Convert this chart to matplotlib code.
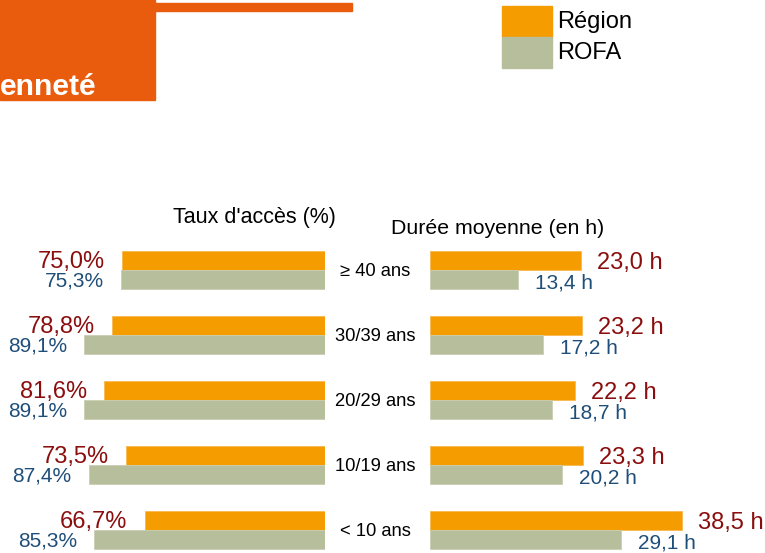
import matplotlib.pyplot as plt
import matplotlib.transforms as mtransforms
from matplotlib.patches import Rectangle
import numpy as np

plt.rcParams['font.family'] = ['Liberation Sans', 'DejaVu Sans']

categories = ['≥ 40 ans', '30/39 ans', '20/29 ans', '10/19 ans', '< 10 ans']
acces_region = [75.0, 78.8, 81.6, 73.5, 66.7]
acces_rofa = [75.3, 89.1, 89.1, 87.4, 85.3]
duree_region = [23.0, 23.2, 22.2, 23.3, 38.5]
duree_rofa = [13.4, 17.2, 18.7, 20.2, 29.1]

ORANGE = '#F59C00'
GREY = '#B7BE9B'
RED = '#8B0E0E'
BLUE = '#1F4E79'
TITLE_ORANGE = '#E95C0E'

W, H = 765, 553
fig = plt.figure(figsize=(W / 100, H / 100), dpi=100)


def rect(x0, y0, x1, y1):
    # pixel box -> figure fraction [left, bottom, width, height]
    return [x0 / W, 1 - y1 / H, (x1 - x0) / W, (y1 - y0) / H]


y = np.arange(len(categories))
bh = 0.285
ylim = (4.354, -0.4615)

# left panel: access rate, bars grow to the left
ax1 = fig.add_axes(rect(54.5, 240, 325, 553))
ax1.barh(y - bh / 2, acces_region, height=bh, color=ORANGE, edgecolor='#F8B850', linewidth=0.6)
ax1.barh(y + bh / 2, acces_rofa, height=bh, color=GREY, edgecolor='#C9CEB3', linewidth=0.6)
ax1.set_xlim(100, 0)
ax1.set_ylim(*ylim)
ax1.axis('off')
for i in range(len(categories)):
    ax1.annotate(f"{acces_region[i]:.1f}%".replace('.', ','), (acces_region[i], y[i] - bh / 2),
                 xytext=(-17, -1), textcoords='offset pixels', ha='right', va='center',
                 color=RED, fontsize=17)
    ax1.annotate(f"{acces_rofa[i]:.1f}%".replace('.', ','), (acces_rofa[i], y[i] + bh / 2),
                 xytext=(-17, -2), textcoords='offset pixels', ha='right', va='center',
                 color=BLUE, fontsize=15)

# right panel: mean duration
ax2 = fig.add_axes(rect(430, 240, 765, 553))
ax2.barh(y - bh / 2, duree_region, height=bh, color=ORANGE, edgecolor='#F8B850', linewidth=0.6)
ax2.barh(y + bh / 2, duree_rofa, height=bh, color=GREY, edgecolor='#C9CEB3', linewidth=0.6)
ax2.set_xlim(0, 335 / 6.55)
ax2.set_ylim(*ylim)
ax2.axis('off')
for i in range(len(categories)):
    ax2.annotate(f"{duree_region[i]:.1f} h".replace('.', ','), (duree_region[i], y[i] - bh / 2),
                 xytext=(16, -2), textcoords='offset pixels', ha='left', va='center',
                 color=RED, fontsize=17)
    ax2.annotate(f"{duree_rofa[i]:.1f} h".replace('.', ','), (duree_rofa[i], y[i] + bh / 2),
                 xytext=(17, -4), textcoords='offset pixels', ha='left', va='center',
                 color=BLUE, fontsize=15)

# category labels between the panels
trans = mtransforms.blended_transform_factory(fig.transFigure, ax1.transData)
for i, cat in enumerate(categories):
    fig.text(375 / W, y[i] + 0.03, cat, transform=trans, ha='center', va='center',
             fontsize=13.2, color='black')

fig.text(254 / W, 1 - 218 / H, "Taux d'accès (%)", ha='center', va='center', fontsize=15.5)
fig.text(498 / W, 1 - 228 / H, "Durée moyenne (en h)", ha='center', va='center', fontsize=15.3)

# title banner
fig.patches.append(Rectangle((0, 1 - 100 / H), 155 / W, 100 / H, transform=fig.transFigure,
                             color=TITLE_ORANGE, zorder=0))
fig.patches.append(Rectangle((155 / W, 1 - 10.5 / H), 197 / W, 7.5 / H, transform=fig.transFigure,
                             color=TITLE_ORANGE, zorder=0))
fig.text(0, 1 - 95 / H, "enneté", ha='left', va='baseline', fontsize=21.7,
         fontweight='bold', color='white')

# legend
fig.patches.append(Rectangle((502 / W, 1 - 37 / H), 50 / W, 31 / H, transform=fig.transFigure,
                             color=ORANGE))
fig.patches.append(Rectangle((502 / W, 1 - 68 / H), 50 / W, 31 / H, transform=fig.transFigure,
                             color=GREY))
fig.text(557 / W, 1 - 22 / H, "Région", ha='left', va='center', fontsize=17)
fig.text(557 / W, 1 - 53 / H, "ROFA", ha='left', va='center', fontsize=17)

fig.savefig('out.png', dpi=100)
